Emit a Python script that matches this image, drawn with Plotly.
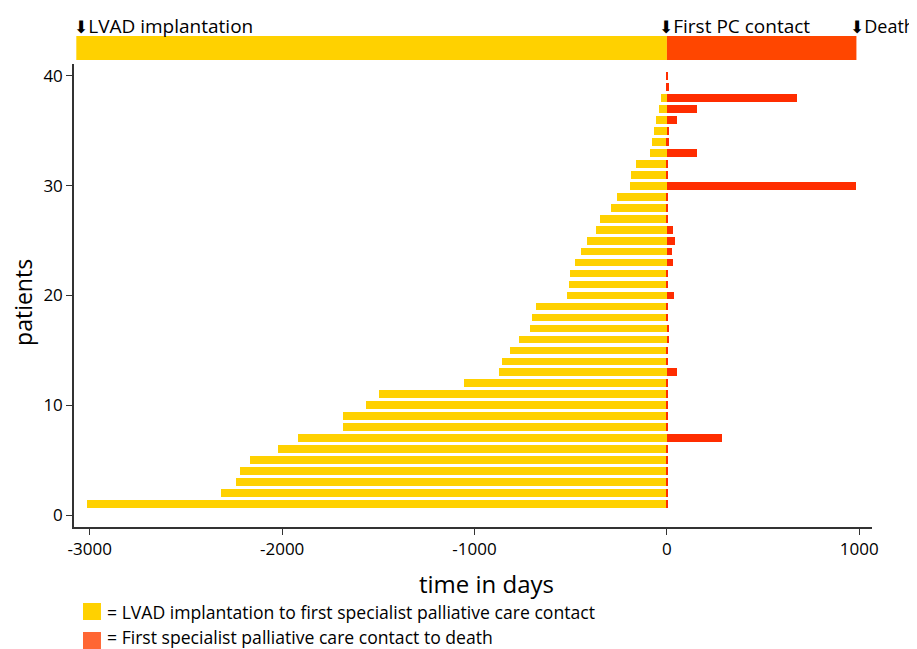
import plotly.graph_objects as go

# ---- data ----
patients = list(range(1, 41))
lvad_to_pc = [-3017, -2316, -2238, -2219, -2168, -2021, -1918, -1686, -1686, -1566,
              -1497, -1056, -871, -857, -816, -767, -710, -702, -681, -521,
              -507, -503, -479, -448, -417, -371, -347, -292, -262, -191,
              -186, -159, -90, -79, -67, -56, -43, -30, -4, -3]
pc_to_death = [4, 4, 3, 3, 3, 3, 286, 4, 4, 4,
               4, 4, 52, 4, 2, 11, 12, 2, 5, 37,
               2, 5, 30, 26, 44, 30, 4, 5, 5, 985,
               5, 5, 155, 10, 12, 51, 155, 678, 9, 1]
x_tickvals = [-3000, -2000, -1000, 0, 1000]
x_ticktext = ["-3000", "-2000", "-1000", "0", "1000"]
y_tickvals = [0, 10, 20, 30, 40]
y_ticktext = ["0", "10", "20", "30", "40"]
x_title = "time in days"
y_title = "patients"
legend_labels = ["= LVAD implantation to first specialist palliative care contact",
                 "= First specialist palliative care contact to death"]
timeline_labels = ["LVAD implantation", "First PC contact", "Death"]
timeline_segments = [(-3070, 0), (0, 985)]

YELLOW = "#FFD100"
RED = "#FF2D00"
TOP_RED = "#FF4600"
LEG_RED = "#FF6633"
FONT = "Open Sans, Noto Sans, DejaVu Sans, sans-serif"

fig = go.Figure()
fig.add_trace(go.Bar(y=patients, x=lvad_to_pc, orientation="h", width=0.72,
                     marker=dict(color=YELLOW, line=dict(width=0)),
                     name=legend_labels[0], showlegend=False))
fig.add_trace(go.Bar(y=patients, x=pc_to_death, orientation="h", width=0.72,
                     marker=dict(color=RED, line=dict(width=0)),
                     name=legend_labels[1], showlegend=False))

# timeline schematic at top
fig.add_shape(type="rect", xref="x", yref="paper", x0=timeline_segments[0][0], x1=timeline_segments[0][1],
              y0=1.0086, y1=1.0605, fillcolor=YELLOW, line=dict(width=0), layer="above")
fig.add_shape(type="rect", xref="x", yref="paper", x0=timeline_segments[1][0], x1=timeline_segments[1][1],
              y0=1.0086, y1=1.0605, fillcolor=TOP_RED, line=dict(width=0), layer="above")

for label, xp, fs in zip(timeline_labels, [-0.0025, 0.7306, 0.9700], [19, 19, 18]):
    fig.add_annotation(text='<span style="font-size:17px">⬇</span>' + label,
                       xref="paper", yref="paper", x=xp, y=1.082,
                       xanchor="left", yanchor="middle", showarrow=False,
                       font=dict(size=fs, color="black", family=FONT))

# axis titles
fig.add_annotation(text=x_title, xref="paper", yref="paper", x=0.5175, y=-0.121,
                   xanchor="center", yanchor="middle", showarrow=False,
                   font=dict(size=24, color="black", family=FONT))
fig.add_annotation(text=y_title, xref="paper", yref="paper", x=-0.0640, y=0.486,
                   xanchor="center", yanchor="middle", showarrow=False, textangle=-90,
                   borderpad=0, borderwidth=0,
                   font=dict(size=23, color="black", family=FONT))

# legend made of swatches and text
fig.add_shape(type="rect", xref="paper", yref="paper", x0=0.0113, x1=0.0338,
              y0=-0.2009, y1=-0.1641, fillcolor=YELLOW, line=dict(width=0))
fig.add_shape(type="rect", xref="paper", yref="paper", x0=0.0113, x1=0.0338,
              y0=-0.2635, y1=-0.2268, fillcolor=LEG_RED, line=dict(width=0))
fig.add_annotation(text=legend_labels[0], xref="paper", yref="paper", x=0.0388, y=-0.1836,
                   xanchor="left", yanchor="middle", showarrow=False,
                   font=dict(size=17.6, color="black", family=FONT))
fig.add_annotation(text=legend_labels[1], xref="paper", yref="paper", x=0.0388, y=-0.2385,
                   xanchor="left", yanchor="middle", showarrow=False,
                   font=dict(size=17.6, color="black", family=FONT))

axis_common = dict(showgrid=False, zeroline=False, showline=True, linecolor="#333333",
                   linewidth=1.5, ticks="outside", ticklen=6, tickwidth=1.2, tickcolor="#333333",
                   automargin=False,
                   tickfont=dict(size=17, color="black", family=FONT))

# page body has an 8px margin, so the figure is 8px smaller and offsets shifted
fig.update_layout(
    width=909, height=641,
    margin=dict(l=66, r=45, t=56, b=122, pad=0),
    paper_bgcolor="white", plot_bgcolor="white",
    barmode="overlay", bargap=0,
    font=dict(family=FONT, color="black"),
    xaxis=dict(range=[-3082, 1066], tickvals=x_tickvals, ticktext=x_ticktext, **axis_common),
    yaxis=dict(range=[-1.06, 41.06], tickvals=y_tickvals, ticktext=y_ticktext, **axis_common),
)

fig.write_html("out.html")
